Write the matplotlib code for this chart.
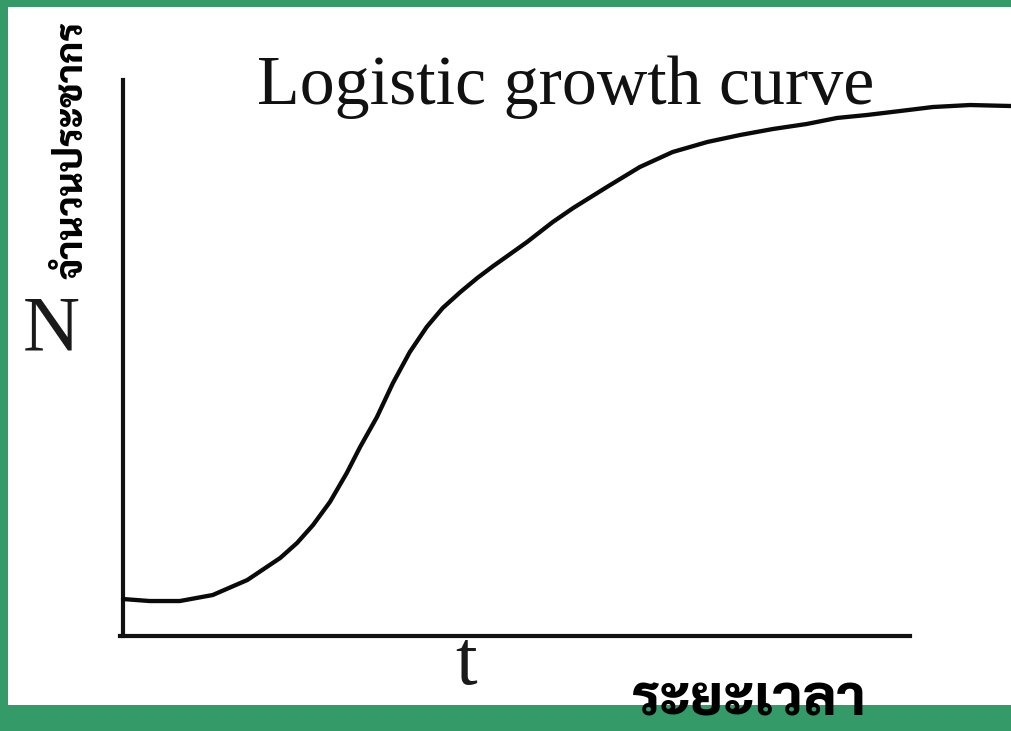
import matplotlib
matplotlib.use("Agg")
import matplotlib.pyplot as plt
from matplotlib.patches import Rectangle

# ---- data ----
t_values = [0.00, 0.30, 0.64, 1.01, 1.40, 1.77, 1.96, 2.14, 2.33, 2.52,
            2.67, 2.86, 3.04, 3.23, 3.42, 3.60, 3.80, 3.99, 4.17, 4.36,
            4.55, 4.84, 5.07, 5.45, 5.82, 6.19, 6.58, 6.95, 7.32, 7.70,
            8.04, 8.38, 8.75, 9.12, 9.54, 10.0]
n_values = [6.65, 6.29, 6.29, 7.37, 10.07, 14.03, 16.73, 19.96, 24.10, 29.32,
            33.99, 39.39, 45.50, 51.08, 55.58, 58.99, 61.87, 64.39, 66.55, 68.70,
            70.86, 74.46, 76.98, 80.76, 84.35, 87.05, 88.85, 90.11, 91.19, 92.09,
            93.17, 93.71, 94.42, 95.14, 95.50, 95.32]
x_axis_end = 8.86

title = "Logistic growth curve"
y_symbol = "N"
x_symbol = "t"
y_label_th = "จำนวนประชากร"
x_label_th = "ระยะเวลา"

W, H = 1011, 731
GREEN = "#349a67"

fig = plt.figure(figsize=(W / 100, H / 100), dpi=100)
fig.patch.set_facecolor("white")

def fx(px):
    return px / W

def fy(py):
    return 1 - py / H

# green frame (left, top, bottom)
for (x0, y0, w, h) in [(0, 0, 7.5, H), (0, 0, W, 7), (0, 705, W, H - 705)]:
    fig.patches.append(Rectangle((fx(x0), fy(y0 + h)), w / W, h / H,
                                 transform=fig.transFigure, facecolor=GREEN,
                                 edgecolor="none", zorder=0))

left_px, right_px, bottom_px, top_px = 123, 1011, 636, 80
ax = fig.add_axes([fx(left_px), fy(bottom_px), (right_px - left_px) / W,
                   (bottom_px - top_px) / H])
ax.set_facecolor("none")
ax.set_xlim(0, 10)
ax.set_ylim(0, 100)
for s in ("top", "right"):
    ax.spines[s].set_visible(False)
for s in ("left", "bottom"):
    ax.spines[s].set_linewidth(3.0)
    ax.spines[s].set_color("#111111")
    ax.spines[s].set_capstyle("projecting")
ax.spines["bottom"].set_bounds(-0.03, x_axis_end)
ax.set_xticks([])
ax.set_yticks([])

ax.plot(t_values, n_values, color="#0a0a0a", lw=3.1, solid_capstyle="round",
        solid_joinstyle="round", clip_on=False, zorder=3)

serif = ["Liberation Serif", "DejaVu Serif"]
fig.text(fx(257), fy(104), title, fontsize=50.3, family=serif, color="#111111",
         ha="left", va="baseline")
fig.text(fx(51), fy(350), y_symbol, fontsize=57, family=serif, color="#1a1a1a",
         ha="center", va="baseline")
fig.text(fx(466), fy(684), x_symbol, fontsize=56, family=serif, color="#1a1a1a",
         ha="center", va="baseline")

thai = ["Sarabun", "DejaVu Sans"]
ty = fig.text(fx(73), fy(150), y_label_th, fontsize=30, family=thai,
              fontweight="heavy", rotation=90, ha="center", va="center",
              color="black", zorder=5)
tx = fig.text(fx(632), fy(730), x_label_th, fontsize=40, family=thai,
              fontweight="heavy", ha="left", va="bottom", color="black",
              zorder=5)

# fit Thai labels to the extents seen in the picture
r = fig.canvas.get_renderer()
for txt, target, dim in [(ty, 258, "h"), (tx, 235, "w")]:
    for _ in range(3):
        bb = txt.get_window_extent(r)
        cur = bb.height if dim == "h" else bb.width
        txt.set_fontsize(txt.get_fontsize() * target / cur)

fig.savefig("out.png", dpi=100, facecolor="white")
